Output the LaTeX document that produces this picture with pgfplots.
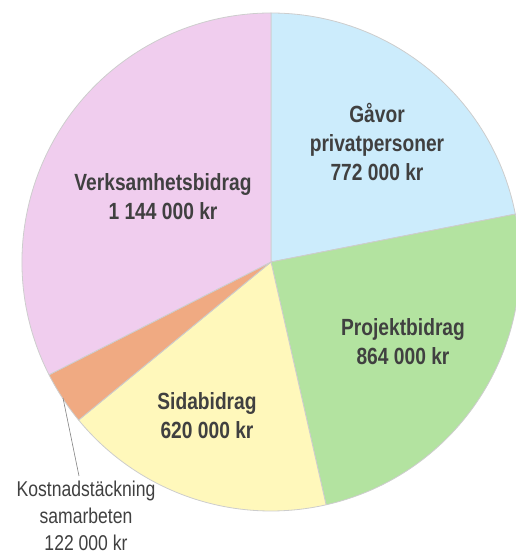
\documentclass[border=0pt]{standalone}
\usepackage{pgfplots}
\usepackage{pgfplotstable}
\pgfplotsset{compat=1.18}
\usepackage{fontspec}
\setmainfont{Liberation Sans}[FakeStretch=0.82]

\definecolor{gavor}{RGB}{204,236,252}
\definecolor{proj}{RGB}{179,227,160}
\definecolor{sida}{RGB}{255,248,187}
\definecolor{kost}{RGB}{240,170,130}
\definecolor{verk}{RGB}{240,205,238}
\definecolor{edge}{RGB}{205,205,205}
\definecolor{txt}{RGB}{64,64,64}

% slices clockwise from 12 o'clock, values in kr/1000
\pgfplotstableread{
name value col
Gavor 772 gavor
Projekt 864 proj
Sida 620 sida
Kostnad 122 kost
Verksamhet 1144 verk
}\piedata

\begin{document}
\begin{tikzpicture}
\begin{axis}[x=1bp,y=1bp,xmin=0,xmax=516,ymin=-554,ymax=0,hide axis,clip=false]
\addplot[draw=none] coordinates {(0,0)(516,-554)};
\pgfplotsextra{
  \gdef\total{0}
  \foreach \i in {0,...,4}{
    \pgfplotstablegetelem{\i}{value}\of\piedata
    \pgfmathsetmacro\tmp{\total+\pgfplotsretval}
    \xdef\total{\tmp}
  }
  \gdef\startang{90}
  \foreach \i in {0,...,4}{
    \pgfplotstablegetelem{\i}{value}\of\piedata \let\sval\pgfplotsretval
    \pgfplotstablegetelem{\i}{col}\of\piedata \let\scol\pgfplotsretval
    \pgfmathsetmacro\endang{\startang-\sval/\total*360}
    \path[fill=\scol,draw=edge,line width=0.8bp,line join=round]
      (axis cs:271,-262) -- ++(\startang:249bp)
      arc[start angle=\startang,end angle=\endang,radius=249bp] -- cycle;
    \xdef\startang{\endang}
  }
}
\draw[gray,line width=0.6bp] (axis cs:63,-398) -- (axis cs:79,-476);
\begin{scope}[every node/.style={text=txt,align=center,font=\fontsize{23.5}{29}\selectfont\bfseries}]
\node at (axis cs:377,-142) {Gåvor\\privatpersoner\\772 000 kr};
\node at (axis cs:163,-197) {Verksamhetsbidrag\\1 144 000 kr};
\node at (axis cs:403,-342) {Projektbidrag\\864 000 kr};
\node at (axis cs:207,-416) {Sidabidrag\\620 000 kr};
\end{scope}
\node[text=txt,align=center,font=\fontsize{21.5}{27}\selectfont] at (axis cs:86,-516)
  {Kostnadstäckning\\samarbeten\\122 000 kr};
\end{axis}
\pgfresetboundingbox
\path (current axis.south west) rectangle (current axis.north east);
\end{tikzpicture}
\end{document}
